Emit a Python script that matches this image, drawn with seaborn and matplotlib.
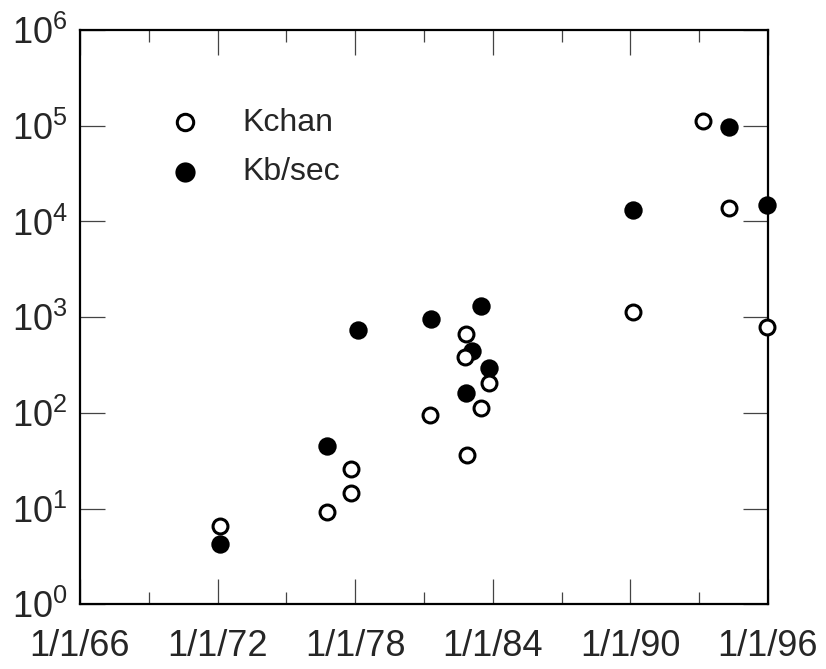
import pandas as pd
import numpy as np
import seaborn as sns
import matplotlib.pyplot as plt
import matplotlib.ticker as mticker

# Data (year as decimal, value on log scale)
kchan_year = [72.11, 76.76, 77.82, 77.82, 81.26, 82.82, 82.79, 82.86, 83.49, 83.85,
              90.10, 93.16, 94.30, 95.97]
kchan_val = [6.6, 9.3, 14.7, 25.7, 95, 663, 387, 36.3, 112, 207,
             1140, 112000, 13700, 796]

kbsec_year = [72.11, 76.76, 78.11, 81.31, 83.49, 83.08, 83.85, 82.82,
              90.10, 94.30, 95.97]
kbsec_val = [4.27, 45, 735, 951, 1310, 447, 292, 163,
             13200, 98000, 14900]

tick_years = [66, 72, 78, 84, 90, 96]
tick_labels = ["1/1/66", "1/1/72", "1/1/78", "1/1/84", "1/1/90", "1/1/96"]
minor_years = [69, 75, 81, 87, 93]

df = pd.concat([
    pd.DataFrame({"year": kchan_year, "value": kchan_val, "series": "Kchan"}),
    pd.DataFrame({"year": kbsec_year, "value": kbsec_val, "series": "Kb/sec"}),
])

sns.set_style("ticks")
plt.rcParams['font.family'] = ['Liberation Sans', 'DejaVu Sans']

fig = plt.figure(figsize=(8.26, 6.69), dpi=100)
ax = fig.add_axes([80 / 826, 1 - 604.3 / 669, 688 / 826, 574.3 / 669])

open_pts = df[df.series == "Kchan"]
filled_pts = df[df.series == "Kb/sec"]

sns.scatterplot(data=open_pts, x="year", y="value", ax=ax, s=115, marker="o",
                facecolors="white", edgecolor="black", linewidth=2.2,
                label="Kchan", clip_on=False, zorder=3)
sns.scatterplot(data=filled_pts, x="year", y="value", ax=ax, s=175, marker="o",
                color="black", linewidth=0, label="Kb/sec", clip_on=False, zorder=2)

ax.set_yscale("log")
ax.set_ylim(1, 1e6)
ax.set_xlim(66, 96)
ax.yaxis.set_major_locator(mticker.LogLocator(base=10, numticks=10))
ax.yaxis.set_minor_locator(mticker.NullLocator())
ax.set_xticks(tick_years)
ax.set_xticklabels(tick_labels)
ax.set_xticks(minor_years, minor=True)

ax.set_xlabel("")
ax.set_ylabel("")

for side in ["left", "right", "top", "bottom"]:
    ax.spines[side].set_visible(True)
    ax.spines[side].set_linewidth(1.6)
    ax.spines[side].set_color("black")

ax.tick_params(axis="both", which="major", direction="in", length=18, width=0.9,
               color="#444444", top=True, right=True, labelsize=26)
ax.tick_params(axis="x", which="minor", direction="in", length=8.5, width=0.9,
               color="#444444", top=True, bottom=True)
ax.tick_params(axis="x", which="major", pad=18)
ax.tick_params(axis="y", which="major", pad=9)

leg = ax.legend(loc="upper left", bbox_to_anchor=(0.087, 0.887), frameon=False,
                fontsize=23, handletextpad=0.8, labelspacing=0.62, markerscale=1.1,
                borderaxespad=0)

fig.savefig("out.png", dpi=100)
